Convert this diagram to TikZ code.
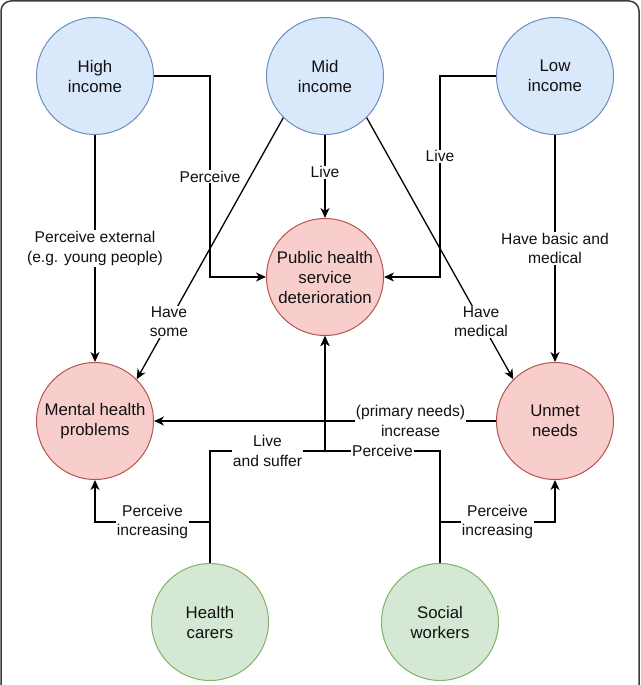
\documentclass[tikz,border=0pt]{standalone}
\usepackage{fontspec}
\setmainfont{Liberation Sans}
\usetikzlibrary{arrows.meta}
\definecolor{bfill}{HTML}{DAE8FC}
\definecolor{bdraw}{HTML}{6C8EBF}
\definecolor{rfill}{HTML}{F8CECC}
\definecolor{rdraw}{HTML}{B85450}
\definecolor{gfill}{HTML}{D5E8D4}
\definecolor{gdraw}{HTML}{82B366}
\definecolor{framecol}{HTML}{3A3A3A}
\definecolor{txt}{HTML}{111111}
\begin{document}
\begin{tikzpicture}[x=1pt,y=-1pt,
  ent/.style={circle, minimum size=117pt, inner sep=0pt, line width=1pt, align=center,
    text=txt, font=\fontsize{16.8}{20}\selectfont},
  bnode/.style={fill=bfill, draw=bdraw},
  rnode/.style={fill=rfill, draw=rdraw},
  gnode/.style={fill=gfill, draw=gdraw},
  conn/.style={line width=1.3pt, -{Stealth[length=10pt,width=9pt,inset=3pt]}},
  lbl/.style={fill=white, inner sep=1pt, align=center, text=txt,
    font=\fontsize{15.6}{19.5}\selectfont}
]
\useasboundingbox (0,0) rectangle (640,685);
\begin{scope}
\clip (0,0) rectangle (640,685);
\draw[framecol, line width=1.5pt, rounded corners=10pt] (1,1) rectangle (639,720);
\end{scope}

\node[ent,bnode] (hi) at (95,76) {High\\income};
\node[ent,bnode] (mi) at (325,76) {Mid\\income};
\node[ent,bnode] (lo) at (555,76) {Low\\income};
\node[ent,rnode] (ph) at (325,277) {Public health\\service\\deterioration};
\node[ent,rnode] (mh) at (95,421) {Mental health\\problems};
\node[ent,rnode] (un) at (555,421) {Unmet\\needs};
\node[ent,gnode] (hc) at (210,622) {Health\\carers};
\node[ent,gnode] (sw) at (440,622) {Social\\workers};

\coordinate (xl) at (210,0);
\coordinate (xr) at (440,0);
\coordinate (yb) at (0,451);
\coordinate (yc) at (0,522);

\draw[conn] (hi.east) -| node[lbl,pos=0.75]{Perceive} (xl |- ph.west) -- (ph.west);
\draw[conn] (lo.west) -| node[lbl,pos=0.70]{Live} (xr |- ph.east) -- (ph.east);
\draw[conn] (mi) -- node[lbl,pos=0.45]{Live} (ph);
\draw[conn] (mi.225) -- node[lbl,pos=0.78]{Have\\some} (mh.45);
\draw[conn] (mi.-45) -- node[lbl,pos=0.78]{Have\\medical} (un.135);
\draw[conn] (hi) -- node[lbl]{Perceive external\\(e.g. young people)} (mh);
\draw[conn] (lo) -- node[lbl]{Have basic and\\medical} (un);
\draw[conn] (un) -- node[lbl,pos=0.25]{(primary needs)\\increase} (mh);

\draw[conn] (hc.north) |- node[lbl,pos=0.75]{Live\\and suffer} (ph.south |- yb) -- (ph.south);
\draw[conn] (hc.north) |- node[lbl,pos=0.75]{Perceive\\increasing} (mh.south |- yc) -- (mh.south);
\draw[conn] (sw.north) |- node[lbl,pos=0.75]{Perceive} (ph.south |- yb) -- (ph.south);
\draw[conn] (sw.north) |- node[lbl,pos=0.75]{Perceive\\increasing} (un.south |- yc) -- (un.south);
\end{tikzpicture}
\end{document}
